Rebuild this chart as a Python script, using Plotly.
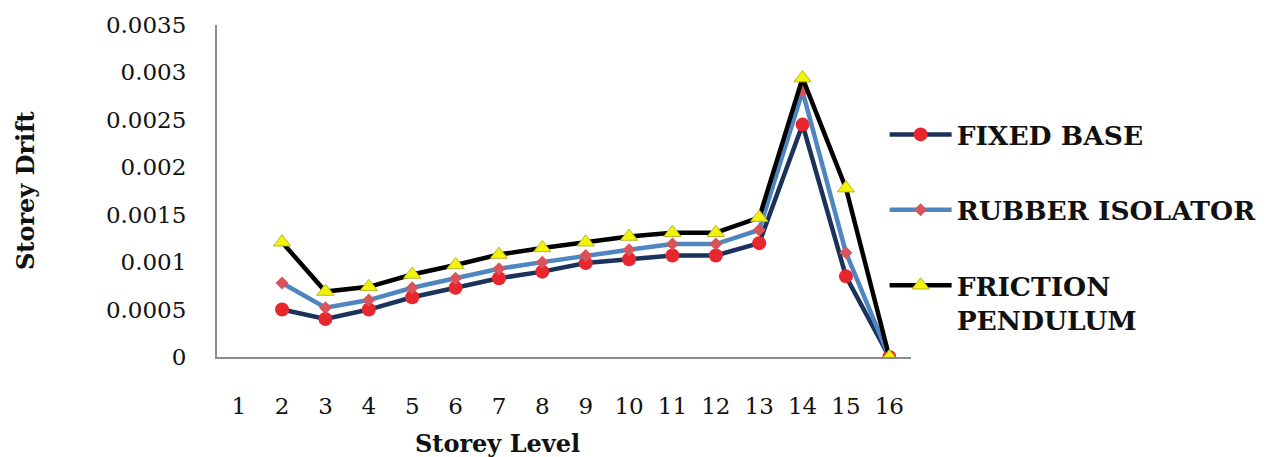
import plotly.graph_objects as go

# Storey levels and drift values per isolation system
storeys = list(range(1, 17))
fixed_base = [None, 0.00050, 0.00040, 0.00050, 0.00063, 0.00073, 0.00083, 0.00090,
              0.00099, 0.00103, 0.00107, 0.00107, 0.00120, 0.00245, 0.00085, 0.0]
rubber_isolator = [None, 0.00078, 0.00052, 0.00060, 0.00073, 0.00083, 0.00093, 0.00100,
                   0.00107, 0.00113, 0.00119, 0.00119, 0.00134, 0.00280, 0.00110, 0.0]
friction_pendulum = [None, 0.00121, 0.00069, 0.00074, 0.00087, 0.00097, 0.00108, 0.00115,
                     0.00121, 0.00127, 0.00131, 0.00131, 0.00147, 0.00294, 0.00178, 0.0]

y_ticks = [0, 0.0005, 0.001, 0.0015, 0.002, 0.0025, 0.003, 0.0035]
y_tick_text = ["0", "0.0005", "0.001", "0.0015", "0.002", "0.0025", "0.003", "0.0035"]

SERIF = "DejaVu Serif"

fig = go.Figure()
fig.add_trace(go.Scatter(
    x=storeys, y=fixed_base, name="FIXED BASE", mode="lines+markers",
    line=dict(color="#1B335A", width=4.5),
    marker=dict(symbol="circle", size=14, color="#E8262E"),
    legendgroup="a",
))
fig.add_trace(go.Scatter(
    x=storeys, y=rubber_isolator, name="RUBBER ISOLATOR", mode="lines+markers",
    line=dict(color="#4F86C0", width=4.5),
    marker=dict(symbol="diamond", size=10, color="#D9545A"),
    legendgroup="b",
))
fig.add_trace(go.Scatter(
    x=storeys, y=friction_pendulum, name="FRICTION<br>PENDULUM", mode="lines+markers",
    line=dict(color="#000000", width=4.5),
    marker=dict(symbol="triangle-up", size=15, color="#F2F20A",
                line=dict(color="#B8B830", width=1)),
    legendgroup="c",
))

fig.update_layout(
    width=1276, height=457,
    margin=dict(l=217, r=365, t=25, b=100, autoexpand=False),
    paper_bgcolor="white", plot_bgcolor="white",
    font=dict(family=SERIF, color="#111111"),
    showlegend=True,
    legend=dict(
        x=0.962, y=0.742, xanchor="left", yanchor="top",
        traceorder="grouped", tracegroupgap=38, itemwidth=62, valign="top",
        font=dict(family=SERIF, size=26.5, color="#111111", weight="bold"),
        bgcolor="rgba(0,0,0,0)",
    ),
    xaxis=dict(
        range=[0.5, 16.5], tickmode="array", tickvals=storeys,
        ticktext=[str(s) for s in storeys],
        showgrid=False, zeroline=False, showline=True,
        linecolor="#8C8C8C", linewidth=2,
        ticks="", ticklabelstandoff=27,
        tickfont=dict(family=SERIF, size=23, color="#111111"),
    ),
    yaxis=dict(
        range=[0, 0.0035], tickmode="array", tickvals=y_ticks, ticktext=y_tick_text,
        showgrid=False, zeroline=False, showline=True,
        linecolor="#8C8C8C", linewidth=2,
        ticks="", ticklabelstandoff=24,
        tickfont=dict(family=SERIF, size=23, color="#111111"),
    ),
    annotations=[
        dict(text="<b>Storey Level</b>", xref="paper", yref="paper",
             x=(497 - 217) / 694, y=-0.26, xanchor="center", yanchor="middle",
             showarrow=False, font=dict(family=SERIF, size=24, color="#111111")),
        dict(text="<b>Storey Drift</b>", xref="paper", yref="paper",
             x=-(217 - 25) / 694, y=(357 - 190) / 332, xanchor="center", yanchor="middle",
             textangle=-90, showarrow=False,
             font=dict(family=SERIF, size=24, color="#111111")),
    ],
)

fig.write_html("out.html")
